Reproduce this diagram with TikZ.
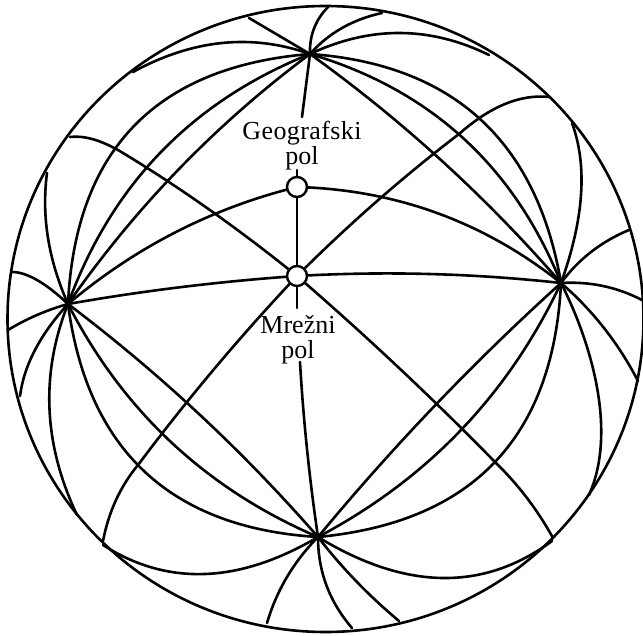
\documentclass[tikz,border=0pt]{standalone}
\usetikzlibrary{calc}
\usepackage{fontspec}
\setmainfont{Liberation Serif}
\newcommand{\greatarc}[3]{\draw[ink] (#1) .. controls ($1.3333*(#2)-0.3333*(#3)$) and ($1.3333*(#2)-0.3333*(#1)$) .. (#3);}
\begin{document}
\begin{tikzpicture}[x=1pt,y=-1pt,
  ink/.style={line width=2.6pt,black,line cap=round,line join=round},
  polemark/.style={circle,draw=black,line width=2.4pt,fill=white,minimum size=20pt,inner sep=0pt},
  lbl/.style={font=\fontsize{26}{25}\selectfont,align=center,inner sep=0pt,text=black}]
\useasboundingbox (0,0) rectangle (643,636);
\coordinate (T) at (310,54);
\coordinate (L) at (68,304);
\coordinate (R) at (561,283);
\coordinate (B) at (318,537);
\coordinate (M) at (297,276);
\coordinate (G) at (297,187);
% rim
\draw[ink] (325.5,319) ellipse [x radius=318,y radius=313];
% from top pole
\draw[ink] (T) -- (249,18);
\greatarc{T}{222,43}{133,72}
\greatarc{47,173}{48,238}{L}
\greatarc{T}{134,126}{L}
\greatarc{T}{161,152}{L}
\greatarc{T}{179,169}{L}
\greatarc{T}{342,28}{382,13}
\greatarc{T}{314,28.5}{328,7}
\greatarc{T}{400,33}{489,55}
\greatarc{572,123}{581,195}{R}
\greatarc{T}{480,119}{R}
\greatarc{T}{463,138}{R}
\greatarc{T}{442,161}{R}
\draw[ink] (T) -- (302,117);
% great circles through the grid pole
\greatarc{70,137}{92,139}{118,150}
\greatarc{118,150}{207,208}{M}
\greatarc{M}{398,367}{495,462}
\greatarc{495,462}{527,498}{553,538}
\greatarc{103,541}{116,500}{138,465}
\greatarc{138,465}{215,368}{M}
\greatarc{M}{376,202}{459,134}
\greatarc{459,134}{505,104}{549,97}
\greatarc{L}{176,232}{G}
\greatarc{G}{437,213}{R}
\greatarc{L}{182,287}{M}
\greatarc{M}{429,274}{R}
\draw[ink] (G) -- (297,170);
\draw[ink] (G) -- (M);
\draw[ink] (M) -- (297,308);
\greatarc{300,362}{307,449}{B}
% left pole
\greatarc{L}{37,280}{12,272}
\greatarc{L}{37,315}{8,330}
\greatarc{L}{35,350}{20,396}
\greatarc{L}{49.5,409}{77,515}
\greatarc{L}{145,472}{B}
\greatarc{L}{172,443}{B}
\greatarc{L}{199,414}{B}
% bottom pole
\greatarc{103,545}{205,574}{B}
\greatarc{B}{287,577}{267,623}
\greatarc{B}{326.5,585.5}{352,628}
\greatarc{B}{356,581}{399,621}
\greatarc{B}{435,405.5}{R}
\greatarc{B}{461,430}{R}
\greatarc{B}{494.5,462.5}{R}
\greatarc{B}{442,578}{552,541}
% right pole
\greatarc{R}{591,252}{629,230}
\greatarc{R}{603,286}{642,300}
\draw[ink] (R) .. controls (590,340) and (618,430) .. (589,495);
\greatarc{R}{604,328}{638,381}
% pole marks and labels
\node[polemark] (gp) at (G) {};
\node[polemark] (mp) at (M) {};
\node[lbl] (gl) at (302,146) {\addfontfeature{LetterSpace=1.5}Geografski\\pol};
\node[lbl] (ml) at (298,340) {Mrežni\\pol};
\end{tikzpicture}
\end{document}
